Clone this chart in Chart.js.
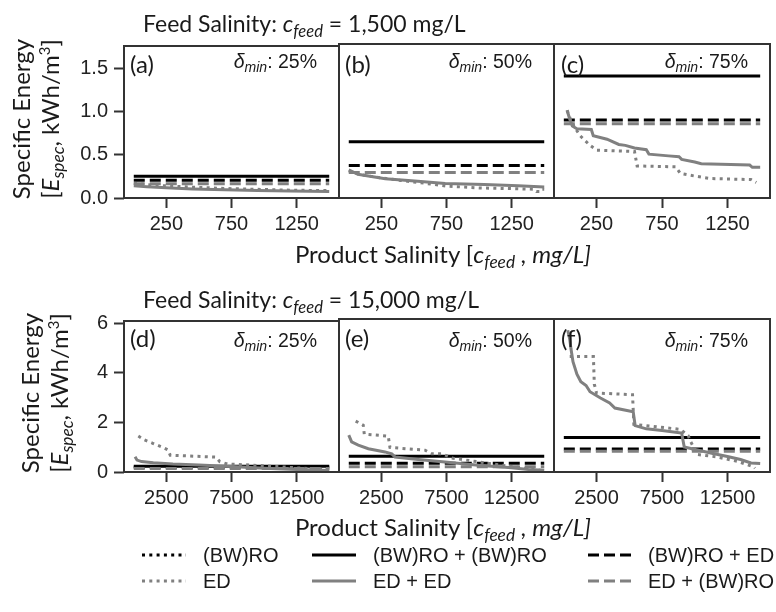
<!DOCTYPE html>
<html>
<head>
<meta charset="utf-8">
<title>Specific energy vs product salinity</title>
<script src="https://cdn.jsdelivr.net/npm/chart.js@4.4.1/dist/chart.umd.min.js"></script>
<style>
  html, body { margin: 0; padding: 0; background: #fff; }
  #fig { position: relative; width: 776px; height: 612px; overflow: hidden; background: #fff; }
  .box { position: absolute; }
  .txt { position: absolute; white-space: nowrap; color: #1a1a1a; line-height: 1; z-index: 5; }
  .cal { font-family: Lato, 'Open Sans', sans-serif; }
  .ari { font-family: 'Liberation Sans', Arial, sans-serif; }
  .sb { font-size: 0.72em; position: relative; top: 0.3em; font-style: italic; }
  .sp { font-size: 0.62em; position: relative; top: -0.6em; }
  .ttl { font-size: 23px; }
  .plab { font-size: 24px; }
  .dlab { font-size: 19.5px; transform: translateX(-100%); }
  .ytitle { font-size: 24px; line-height: 29px; text-align: center; transform: translate(-50%, -50%) rotate(-90deg); }
  .xtitle { font-size: 24px; transform: translateX(-50%); }
  .leg { font-size: 20px; }
  svg { position: absolute; left: 0; top: 0; z-index: 4; }
</style>
</head>
<body>
<div id="fig">
  <!-- row headings -->
  <div class="txt cal ttl" style="left:143px; top:11.6px;">Feed Salinity: <i>c</i><span class="sb">feed</span> = 1,500 mg/L</div>
  <div class="txt cal ttl" style="left:143px; top:287.6px;">Feed Salinity: <i>c</i><span class="sb">feed</span> = 15,000 mg/L</div>

  <!-- shared axis titles -->
  <div class="txt cal ytitle" style="left:36.5px; top:119px;">Specific Energy<br>[<i>E</i><span class="sb">spec</span>, kWh/m<span class="sp">3</span>]</div>
  <div class="txt cal ytitle" style="left:46px; top:393px;">Specific Energy<br>[<i>E</i><span class="sb">spec</span>, kWh/m<span class="sp">3</span>]</div>
  <div class="txt cal xtitle" style="left:443px; top:241.7px;">Product Salinity [<i>c</i><span class="sb">feed</span> <i>, mg/L]</i></div>
  <div class="txt cal xtitle" style="left:443px; top:514.7px;">Product Salinity [<i>c</i><span class="sb">feed</span> <i>, mg/L]</i></div>

  <!-- panel letters -->
  <div class="txt cal plab" style="left:130px; top:51.5px;">(a)</div>
  <div class="txt cal plab" style="left:345px; top:51.5px;">(b)</div>
  <div class="txt cal plab" style="left:561px; top:51.5px;">(c)</div>
  <div class="txt cal plab" style="left:130px; top:326.2px;">(d)</div>
  <div class="txt cal plab" style="left:345px; top:326.2px;">(e)</div>
  <div class="txt cal plab" style="left:561px; top:326.2px;">(f)</div>

  <!-- minimum-reduction annotations -->
  <div class="txt ari dlab" style="left:317px; top:51.8px;"><i>δ</i><span class="sb">min</span>: 25%</div>
  <div class="txt ari dlab" style="left:532px; top:51.8px;"><i>δ</i><span class="sb">min</span>: 50%</div>
  <div class="txt ari dlab" style="left:748px; top:51.8px;"><i>δ</i><span class="sb">min</span>: 75%</div>
  <div class="txt ari dlab" style="left:317px; top:331.2px;"><i>δ</i><span class="sb">min</span>: 25%</div>
  <div class="txt ari dlab" style="left:532px; top:331.2px;"><i>δ</i><span class="sb">min</span>: 50%</div>
  <div class="txt ari dlab" style="left:748px; top:331.2px;"><i>δ</i><span class="sb">min</span>: 75%</div>

  <!-- legend -->
  <svg width="776" height="612">
    <line x1="142" y1="555" x2="186" y2="555" stroke="#000" stroke-width="3" stroke-dasharray="3 4.3"/>
    <line x1="312" y1="555" x2="356" y2="555" stroke="#000" stroke-width="3"/>
    <line x1="588" y1="555" x2="632" y2="555" stroke="#000" stroke-width="3" stroke-dasharray="11 5"/>
    <line x1="142" y1="581" x2="186" y2="581" stroke="#808080" stroke-width="3" stroke-dasharray="3 4.3"/>
    <line x1="312" y1="581" x2="356" y2="581" stroke="#808080" stroke-width="3"/>
    <line x1="588" y1="581" x2="632" y2="581" stroke="#808080" stroke-width="3" stroke-dasharray="11 5"/>
  </svg>
  <div class="txt ari leg" style="left:203px; top:545.3px;">(BW)RO</div>
  <div class="txt ari leg" style="left:373px; top:545.3px;">(BW)RO + (BW)RO</div>
  <div class="txt ari leg" style="left:648px; top:545.3px;">(BW)RO + ED</div>
  <div class="txt ari leg" style="left:203px; top:571.3px;">ED</div>
  <div class="txt ari leg" style="left:373px; top:571.3px;">ED + ED</div>
  <div class="txt ari leg" style="left:648px; top:571.3px;">ED + (BW)RO</div>
</div>

<script>
// ---- axis ticks ----
const xTicksLow = [250, 750, 1250];          // feed 1,500 mg/L
const xTicksHigh = [2500, 7500, 12500];      // feed 15,000 mg/L
const yTicksLow = [0, 0.5, 1.0, 1.5];
const yTicksHigh = [0, 2, 4, 6];
const productMax = [1500, 15000];            // product salinity range per feed

// ---- constant-energy configurations, panels a..f ----
const roRo = [0.25, 0.64, 1.39, 0.23, 0.63, 1.375];   // (BW)RO + (BW)RO
const roEd = [0.205, 0.37, 0.89, 0.19, 0.35, 0.92];   // (BW)RO + ED
const edRo = [0.165, 0.29, 0.845, 0.14, 0.21, 0.83];  // ED + (BW)RO

// ---- ED (single stage) and ED + ED, per panel ----
const edX_a = [0, 100, 250, 450, 700, 950, 1200, 1500];
const edY_a = [0.17, 0.155, 0.14, 0.125, 0.11, 0.1, 0.09, 0.085];
const edEdX_a = [0, 100, 250, 450, 700, 950, 1200, 1500];
const edEdY_a = [0.14, 0.13, 0.118, 0.105, 0.095, 0.087, 0.08, 0.075];

const edX_b = [0, 80, 200, 400, 600, 750, 1000, 1300, 1420, 1440, 1470, 1480, 1500];
const edY_b = [0.31, 0.27, 0.24, 0.2, 0.165, 0.135, 0.115, 0.105, 0.1, 0.075, 0.075, 0.1, 0.1];
const edEdX_b = [0, 70, 150, 280, 530, 740, 1040, 1300, 1500];
const edEdY_b = [0.32, 0.27, 0.25, 0.22, 0.19, 0.165, 0.153, 0.14, 0.126];

const edX_c = [25, 60, 124, 200, 252, 540, 560, 855, 890, 1000, 1120, 1430, 1470];
const edY_c = [1.0, 0.86, 0.71, 0.6, 0.545, 0.53, 0.365, 0.355, 0.28, 0.25, 0.222, 0.21, 0.176];
const edEdX_c = [25, 45, 65, 100, 210, 225, 330, 420, 470, 540, 630, 650, 800, 880, 900, 1000, 1050, 1200, 1420, 1440, 1500];
const edEdY_c = [1.0, 0.9, 0.82, 0.79, 0.78, 0.71, 0.67, 0.61, 0.6, 0.57, 0.55, 0.5, 0.48, 0.47, 0.44, 0.41, 0.39, 0.385, 0.375, 0.35, 0.35];

const edX_d = [350, 800, 1500, 2200, 2600, 2800, 6300, 6600, 7200, 9000, 11000, 13000, 15000];
const edY_d = [1.45, 1.3, 1.15, 1.0, 0.9, 0.68, 0.6, 0.42, 0.32, 0.28, 0.22, 0.15, 0.1];
const edEdX_d = [100, 250, 600, 1500, 3000, 5000, 7500, 10000, 12500, 15000];
const edEdY_d = [0.62, 0.48, 0.42, 0.37, 0.32, 0.28, 0.22, 0.15, 0.1, 0.06];

const edX_e = [530, 1110, 1190, 3030, 3160, 5850, 6360, 7130, 8000, 10000, 12000, 13500, 14500, 15000];
const edY_e = [2.03, 1.87, 1.51, 1.43, 0.98, 0.87, 0.73, 0.73, 0.55, 0.4, 0.25, 0.15, 0.08, 0.05];
const edEdX_e = [0, 220, 730, 1500, 2780, 3300, 3550, 5330, 7380, 9940, 12500, 13780, 15000];
const edEdY_e = [1.47, 1.2, 1.07, 0.93, 0.8, 0.72, 0.6, 0.5, 0.4, 0.27, 0.17, 0.1, 0.07];

const edX_f = [450, 2260, 2330, 2500, 5250, 5350, 8900, 9500, 9700, 10200, 11700, 13300, 14500, 14600];
const edY_f = [4.6, 4.6, 3.5, 3.15, 3.08, 1.9, 1.7, 1.45, 1.2, 0.7, 0.6, 0.42, 0.2, 0.15];
const edEdX_f = [300, 450, 550, 700, 1000, 1300, 1700, 2000, 2800, 3500, 3900, 5300, 5450, 6300, 7500, 9000, 9200, 10200, 11300, 12500, 13500, 14300, 15000];
const edEdY_f = [5.65, 5.3, 4.9, 4.4, 3.9, 3.6, 3.45, 3.2, 2.95, 2.75, 2.55, 2.4, 1.85, 1.72, 1.65, 1.55, 1.0, 0.88, 0.75, 0.62, 0.5, 0.36, 0.34];

const edSeries = [[edX_a, edY_a], [edX_b, edY_b], [edX_c, edY_c], [edX_d, edY_d], [edX_e, edY_e], [edX_f, edY_f]];
const edEdSeries = [[edEdX_a, edEdY_a], [edEdX_b, edEdY_b], [edEdX_c, edEdY_c], [edEdX_d, edEdY_d], [edEdX_e, edEdY_e], [edEdX_f, edEdY_f]];

// ---- layout ----
const BLACK = '#000000';
const GRAY = '#808080';
const FRAME = '#333333';
const DOT = [3, 4.3];
const DASH = [11, 5];
const COLS = [[124, 339], [339, 554], [554, 770]];
const ROWS = [[44, 198], [319, 472]];
const PL = 60, PT = 16, PR = 4, PB = 44;

const framePlugin = {
  id: 'panelFrame',
  afterDraw(chart) {
    const { ctx, chartArea: a } = chart;
    ctx.save();
    ctx.strokeStyle = FRAME;
    ctx.lineWidth = 2;
    ctx.strokeRect(a.left, a.top, a.right - a.left, a.bottom - a.top);
    ctx.restore();
  }
};

function pts(xs, ys) { return xs.map((x, i) => ({ x, y: ys[i] })); }
function flat(v, xmax) { return [{ x: 0, y: v }, { x: xmax, y: v }]; }
function ds(data, color, dash) {
  return { data, borderColor: color, borderWidth: 3, borderDash: dash || [], pointRadius: 0, tension: 0, fill: false };
}

const fig = document.getElementById('fig');

for (let p = 0; p < 6; p++) {
  const row = Math.floor(p / 3), col = p % 3;
  const [l, r] = COLS[col];
  const [t, b] = ROWS[row];
  const w = r - l + PL + PR, h = b - t + PT + PB;
  const box = document.createElement('div');
  box.className = 'box';
  box.style.left = (l - PL) + 'px';
  box.style.top = (t - PT) + 'px';
  box.style.width = w + 'px';
  box.style.height = h + 'px';
  const cv = document.createElement('canvas');
  cv.width = w; cv.height = h;
  cv.style.width = w + 'px'; cv.style.height = h + 'px';
  box.appendChild(cv);
  fig.appendChild(box);

  const xmax = productMax[row];
  const xt = row === 0 ? xTicksLow : xTicksHigh;
  const yt = row === 0 ? yTicksLow : yTicksHigh;
  const showY = col === 0;

  new Chart(cv, {
    type: 'line',
    data: {
      datasets: [
        ds(pts(edEdSeries[p][0], edEdSeries[p][1]), GRAY),
        ds(pts(edSeries[p][0], edSeries[p][1]), GRAY, DOT),
        ds(flat(edRo[p], xmax), GRAY, DASH),
        ds(flat(roEd[p], xmax), BLACK, DASH),
        ds(flat(roRo[p], xmax), BLACK)
      ]
    },
    options: {
      responsive: false,
      animation: false,
      devicePixelRatio: 1,
      layout: { padding: { left: 0, top: PT, right: PR, bottom: 0 } },
      plugins: { legend: { display: false }, tooltip: { enabled: false } },
      scales: {
        x: {
          type: 'linear',
          min: -0.05 * xmax,
          max: 1.05 * xmax,
          bounds: 'data',
          afterBuildTicks: s => { s.ticks = xt.map(v => ({ value: v })); },
          afterFit: s => { s.height = PB; },
          border: { display: false },
          grid: { display: true, drawOnChartArea: false, drawTicks: true, tickLength: 10, tickWidth: 2, tickColor: FRAME },
          ticks: { color: '#222', padding: 4, maxRotation: 0, font: { family: "'Liberation Sans', Arial, sans-serif", size: 20 }, callback: v => String(v) }
        },
        y: {
          type: 'linear',
          min: 0,
          max: row === 0 ? 1.755 : 6.1,
          bounds: 'data',
          afterBuildTicks: s => { s.ticks = yt.map(v => ({ value: v })); },
          afterFit: s => { s.width = PL; },
          border: { display: false },
          grid: { display: showY, drawOnChartArea: false, drawTicks: true, tickLength: 10, tickWidth: 2, tickColor: FRAME },
          ticks: { display: showY, color: '#222', padding: 6, font: { family: "'Liberation Sans', Arial, sans-serif", size: 20 },
                   callback: v => row === 0 ? v.toFixed(1) : String(v) }
        }
      }
    },
    plugins: [framePlugin]
  });
}
</script>
</body>
</html>
